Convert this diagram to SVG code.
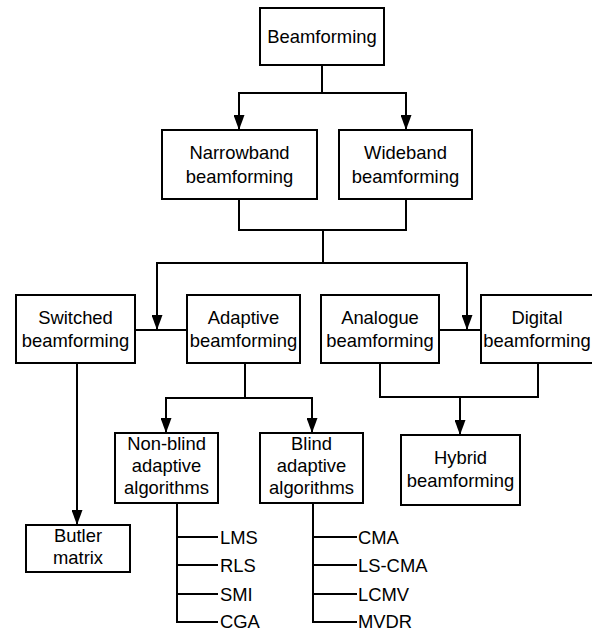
<svg xmlns="http://www.w3.org/2000/svg" width="592" height="632" viewBox="0 0 592 632">
<defs>
<marker id="arr" markerUnits="userSpaceOnUse" markerWidth="15" markerHeight="11" refX="15" refY="5.5" orient="auto">
<path d="M0,0 L15,5.5 L0,11 z" fill="#000"/>
</marker>
<style>
rect{fill:#fff;stroke:#000;stroke-width:2}
text{font-family:"Liberation Sans",Arial,sans-serif;font-size:18.4px;fill:#000;text-anchor:middle}
.l{text-anchor:start}
#connectors path{fill:none;stroke:#000;stroke-width:2}
.a{marker-end:url(#arr)}
</style>
</defs>
<rect x="0" y="0" width="592" height="632" style="stroke:none"/>
<g id="connectors">
<path d="M322,65 V93"/>
<path class="a" d="M322,93 H239 V130"/>
<path class="a" d="M322,93 H406 V130"/>
<path d="M239,199 V230 H406 V199"/>
<path d="M323,230 V263"/>
<path class="a" d="M323,263 H157 V330"/>
<path class="a" d="M323,263 H467 V330"/>
<path d="M135,330 H187"/>
<path d="M439,330 H481"/>
<path class="a" d="M77,363 V525"/>
<path d="M245,363 V398"/>
<path class="a" d="M245,398 H166 V433"/>
<path class="a" d="M245,398 H312 V433"/>
<path d="M380,363 V397 H538 V363"/>
<path class="a" d="M460,397 V435"/>
<path d="M177,503 V622 H218 M177,537 H218 M177,565 H218 M177,594 H218"/>
<path d="M313,503 V622 H357 M313,537 H357 M313,565 H357 M313,594 H357"/>
</g>
<g id="beamforming"><rect x="260" y="8" width="124" height="57"/><text x="322" y="43">Beamforming</text></g>
<g id="narrowband"><rect x="162" y="130" width="155" height="69"/><text x="239.5" y="159">Narrowband</text><text x="239.5" y="183">beamforming</text></g>
<g id="wideband"><rect x="339" y="130" width="133" height="69"/><text x="405.5" y="159">Wideband</text><text x="405.5" y="183">beamforming</text></g>
<g id="switched"><rect x="16" y="295" width="119" height="68"/><text x="75.5" y="324">Switched</text><text x="75.5" y="347">beamforming</text></g>
<g id="adaptive"><rect x="187" y="295" width="113" height="68"/><text x="243.5" y="324">Adaptive</text><text x="243.5" y="347">beamforming</text></g>
<g id="analogue"><rect x="321" y="295" width="118" height="68"/><text x="380" y="324">Analogue</text><text x="380" y="347">beamforming</text></g>
<g id="digital"><rect x="481" y="295" width="112" height="68"/><text x="537" y="324">Digital</text><text x="537" y="347">beamforming</text></g>
<g id="butler"><rect x="26" y="525" width="104" height="47"/><text x="78" y="542">Butler</text><text x="78" y="564">matrix</text></g>
<g id="nonblind"><rect x="115" y="433" width="103" height="70"/><text x="166.5" y="450">Non-blind</text><text x="166.5" y="472">adaptive</text><text x="166.5" y="494">algorithms</text></g>
<g id="blind"><rect x="260" y="433" width="103" height="70"/><text x="311.5" y="450">Blind</text><text x="311.5" y="472">adaptive</text><text x="311.5" y="494">algorithms</text></g>
<g id="hybrid"><rect x="401" y="435" width="119" height="70"/><text x="460.5" y="464">Hybrid</text><text x="460.5" y="487">beamforming</text></g>
<g id="nonblind-list">
<text class="l" x="220" y="543.5">LMS</text><text class="l" x="220" y="571.5">RLS</text><text class="l" x="220" y="600.5">SMI</text><text class="l" x="220" y="628">CGA</text>
</g>
<g id="blind-list">
<text class="l" x="358" y="543.5">CMA</text><text class="l" x="358" y="571.5">LS-CMA</text><text class="l" x="358" y="600.5">LCMV</text><text class="l" x="358" y="628">MVDR</text>
</g>
</svg>
